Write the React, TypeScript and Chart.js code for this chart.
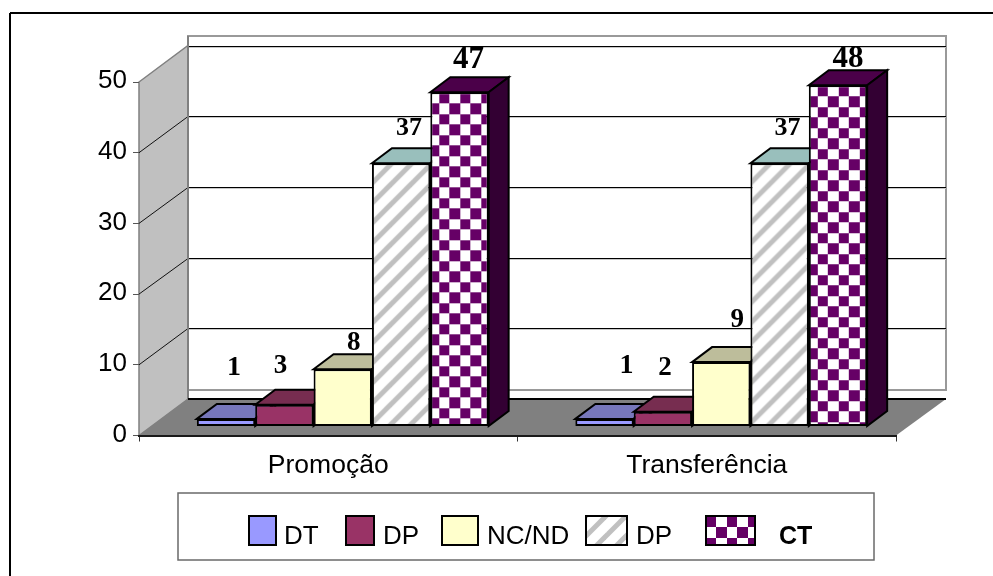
import React, { useEffect, useRef } from "react";
import { Chart, registerables } from "chart.js";

Chart.register(...registerables);

// Survey answers per category
const categories = ["Promoção", "Transferência"];
const dtValues = [1, 1];
const dpValues = [3, 2];
const ncValues = [8, 9];
const dpHatchValues = [37, 37];
const ctValues = [47, 48];
const seriesNames = ["DT", "DP", "NC/ND", "DP", "CT"];
const yTickStep = 10;

// Box geometry of the pseudo-3D scene
const FRAME = { x: 10, y: 13 };
const WALL = { top: 36, left: 188, right: 946, bottom: 390 };
const FLOOR_BACK_Y = 399;
const BACK_DX = 49;
const BACK_DY = 36.5;
const BAR_DX = 20;
const BAR_DY = 15;
const BAR_SHIFT_X = 14.5;

// Bars stand a little in front of the axis plane, so they get their own value axis
const BAR_AXIS_MIN = -1.34;
const BAR_AXIS_MAX = 48.45;

const SOLID_FILLS = ["#9999FF", "#993366", "#FFFFCC", "#FFFFFF", "#FFFFFF"];
const TOP_FILLS = ["#7777BB", "#772D50", "#BDBD9B", "#99BFBC", "#4B0049"];
const SIDE_FILLS = ["#4C4C7F", "#4C1933", "#7F7F66", "#7F8F8F", "#330033"];

// Hand-placed value labels: offset from the top centre of each bar's front face
const LABEL_OFFSETS = [
  [[8, -53], [22, -55]],
  [[-4, -41], [2, -46]],
  [[11, -28], [16, -44]],
  [[8, -37], [8, -37]],
  [[9, -35], [10, -28]],
];
const LABEL_SIZES = [28, 27, 27, 26, 31];

const LEGEND_BOX = { x: 178, y: 493, right: 874, bottom: 560 };
const LEGEND_SWATCH = { top: 516, bottom: 545 };
const LEGEND_SLOTS = [
  { x: 249, w: 27, textX: 284 },
  { x: 346, w: 28, textX: 383 },
  { x: 442, w: 36, textX: 487 },
  { x: 586, w: 41, textX: 636 },
  { x: 706, w: 49, textX: 779 },
];

function makeChecker(): CanvasPattern {
  const tile = document.createElement("canvas");
  tile.width = 21;
  tile.height = 21;
  const c = tile.getContext("2d")!;
  c.fillStyle = "#FFFFFF";
  c.fillRect(0, 0, 21, 21);
  c.fillStyle = "#660066";
  c.fillRect(0, 0, 10, 10);
  c.fillRect(10, 10, 11, 11);
  return c.createPattern(tile, "repeat")!;
}

function makeStripes(): CanvasPattern {
  const t = 20;
  const tile = document.createElement("canvas");
  tile.width = t;
  tile.height = t;
  const c = tile.getContext("2d")!;
  c.fillStyle = "#FFFFFF";
  c.fillRect(0, 0, t, t);
  c.strokeStyle = "#C0C0C0";
  c.lineWidth = 5;
  for (const k of [0, t, 2 * t]) {
    c.beginPath();
    c.moveTo(-t, k + t);
    c.lineTo(2 * t, k - 2 * t);
    c.stroke();
  }
  return c.createPattern(tile, "repeat")!;
}

function anchored(p: CanvasPattern, x: number, y: number): CanvasPattern {
  p.setTransform(new DOMMatrix().translate(x, y));
  return p;
}

// Swaps the hatched fills in so the pattern starts at each bar's corner
const barPatterns = {
  id: "barPatterns",
  afterDatasetsUpdate(chart: any) {
    [3, 4].forEach((ds) => {
      chart.getDatasetMeta(ds).data.forEach((el: any) => {
        const { x, y, width } = el.getProps(["x", "y", "width"], true);
        const left = x - width / 2;
        const fill = ds === 4 ? anchored(makeChecker(), left + 9, y + 1) : anchored(makeStripes(), left, y);
        el.options = { ...el.options, backgroundColor: fill };
      });
    });
  },
};

function poly(ctx: CanvasRenderingContext2D, pts: number[][], fill?: string, stroke?: string, lw = 1) {
  ctx.beginPath();
  pts.forEach(([x, y], i) => (i ? ctx.lineTo(x, y) : ctx.moveTo(x, y)));
  ctx.closePath();
  if (fill) {
    ctx.fillStyle = fill;
    ctx.fill();
  }
  if (stroke) {
    ctx.strokeStyle = stroke;
    ctx.lineWidth = lw;
    ctx.stroke();
  }
}

function line(ctx: CanvasRenderingContext2D, x1: number, y1: number, x2: number, y2: number, color: string, lw = 1) {
  ctx.beginPath();
  ctx.moveTo(x1, y1);
  ctx.lineTo(x2, y2);
  ctx.strokeStyle = color;
  ctx.lineWidth = lw;
  ctx.stroke();
}

// Frame, back wall, side wall with gridlines and floor, below the axes
const scene = {
  id: "scene",
  beforeDraw(chart: any) {
    const { ctx, chartArea, scales } = chart;
    const y = scales.y;
    ctx.save();
    ctx.fillStyle = "#FFFFFF";
    ctx.fillRect(0, 0, chart.width, chart.height);
    line(ctx, FRAME.x, FRAME.y, chart.width, FRAME.y, "#000000", 2);
    line(ctx, FRAME.x, FRAME.y, FRAME.x, chart.height, "#000000", 2);

    const frontLeft = chartArea.left;
    const backLeft = frontLeft + BACK_DX;
    const frontRight = chartArea.right;
    const bottom = y.getPixelForValue(0);
    const top = y.getPixelForValue(y.max);

    ctx.strokeStyle = "#999999";
    ctx.lineWidth = 2;
    ctx.strokeRect(WALL.left, WALL.top, WALL.right - WALL.left, WALL.bottom - WALL.top);

    poly(
      ctx,
      [[frontLeft, top], [backLeft, top - BACK_DY], [backLeft, bottom - BACK_DY], [frontLeft, bottom]],
      "#C0C0C0",
      "#808080",
      1.5
    );
    y.ticks.forEach((t: any) => {
      const py = y.getPixelForValue(t.value);
      if (t.value === 0) return;
      const backY = Math.round(py - BACK_DY) + 0.5;
      line(ctx, backLeft, backY + 1, WALL.right, backY + 1, "#C8C8C8", 1);
      line(ctx, backLeft, backY, WALL.right, backY, "#000000", 1);
      if (t.value !== y.max) line(ctx, frontLeft, py, backLeft, backY, "#111111", 1);
    });
    line(ctx, backLeft, WALL.top, backLeft, FLOOR_BACK_Y, "#808080", 2);

    poly(
      ctx,
      [[frontLeft, bottom], [backLeft, FLOOR_BACK_Y], [WALL.right, FLOOR_BACK_Y], [frontRight, bottom]],
      "#808080"
    );
    line(ctx, backLeft, FLOOR_BACK_Y, WALL.right, FLOOR_BACK_Y, "#000000", 2);
    ctx.restore();
  },
  // Datasets are painted left to right, so a bar hides the depth faces of the one before it
  beforeDatasetsDraw(chart: any) {
    const { ctx } = chart;
    ctx.save();
    ctx.translate(BAR_SHIFT_X, 0);
    chart.data.datasets.forEach((_: any, i: number) => {
      const meta = chart.getDatasetMeta(i);
      meta.data.forEach((el: any) => {
        const { x, y, base, width } = el.getProps(["x", "y", "base", "width"], true);
        const l = x - width / 2;
        const r = x + width / 2;
        poly(ctx, [[l, y], [l + BAR_DX, y - BAR_DY], [r + BAR_DX, y - BAR_DY], [r, y]], TOP_FILLS[i], "#000000", 2);
        poly(ctx, [[r, y], [r + BAR_DX, y - BAR_DY], [r + BAR_DX, base - BAR_DY], [r, base]], SIDE_FILLS[i], "#000000", 2);
      });
      meta.controller.draw();
    });
    ctx.restore();
    return false;
  },
  afterDraw(chart: any) {
    const { ctx } = chart;
    ctx.save();
    ctx.fillStyle = "#000000";
    ctx.textAlign = "center";
    ctx.textBaseline = "alphabetic";
    chart.data.datasets.forEach((ds: any, i: number) => {
      const size = LABEL_SIZES[i];
      ctx.font = `bold ${size}px "Liberation Serif"`;
      chart.getDatasetMeta(i).data.forEach((el: any, j: number) => {
        const { x, y } = el.getProps(["x", "y"], true);
        const [dx, dy] = LABEL_OFFSETS[i][j];
        ctx.fillText(String(ds.data[j]), x + BAR_SHIFT_X + dx, y + dy + size * 0.33);
      });
    });

    // Legend box
    ctx.strokeStyle = "#6A6A6A";
    ctx.lineWidth = 1.5;
    ctx.strokeRect(LEGEND_BOX.x, LEGEND_BOX.y, LEGEND_BOX.right - LEGEND_BOX.x, LEGEND_BOX.bottom - LEGEND_BOX.y);
    const h = LEGEND_SWATCH.bottom - LEGEND_SWATCH.top;
    ctx.textAlign = "left";
    ctx.textBaseline = "alphabetic";
    LEGEND_SLOTS.forEach((slot, i) => {
      let fill: string | CanvasPattern = SOLID_FILLS[i];
      if (i === 3) fill = anchored(makeStripes(), slot.x, LEGEND_SWATCH.top);
      if (i === 4) fill = anchored(makeChecker(), slot.x, LEGEND_SWATCH.top + 1);
      ctx.fillStyle = fill;
      ctx.fillRect(slot.x, LEGEND_SWATCH.top, slot.w, h);
      ctx.strokeStyle = "#000000";
      ctx.lineWidth = 2;
      ctx.strokeRect(slot.x, LEGEND_SWATCH.top, slot.w, h);
      ctx.fillStyle = "#000000";
      ctx.font = i === 4 ? 'bold 25px "Liberation Sans"' : '26px "Liberation Sans"';
      ctx.fillText(seriesNames[i], slot.textX, 544);
    });
    ctx.restore();
  },
};

export default function App() {
  const ref = useRef<HTMLCanvasElement>(null);
  useEffect(() => {
    const series = [dtValues, dpValues, ncValues, dpHatchValues, ctValues];
    const chart = new Chart(ref.current!, {
      type: "bar",
      plugins: [barPatterns, scene],
      data: {
        labels: categories,
        datasets: series.map((data, i) => ({
          label: seriesNames[i],
          data,
          yAxisID: "yBars",
          backgroundColor: SOLID_FILLS[i],
          borderColor: "#000000",
          borderWidth: 2,
          borderSkipped: false,
          barPercentage: 1,
          categoryPercentage: 0.771,
          clip: false as any,
        })),
      },
      options: {
        animation: false,
        responsive: false,
        layout: { padding: { top: 82, right: 97, left: 0, bottom: 0 } },
        plugins: { legend: { display: false }, title: { display: false }, tooltip: { enabled: false } },
        scales: {
          x: {
            grid: { offset: true, drawOnChartArea: false, drawTicks: true, tickLength: 6, color: "#333333" },
            border: { color: "#1A1A1A", width: 2 },
            ticks: { color: "#000000", font: { family: "Liberation Sans", size: 26.5 }, padding: 8, maxRotation: 0 },
            afterFit(s: any) {
              s.height = 140.5;
            },
          },
          y: {
            min: 0,
            max: 50,
            grid: { drawOnChartArea: false, tickLength: 6, color: "#555555" },
            border: { display: false },
            ticks: { stepSize: yTickStep, color: "#000000", font: { family: "Liberation Sans", size: 26 }, padding: 6, labelOffset: -1 },
            afterFit(s: any) {
              s.width = 139;
            },
          },
          yBars: { display: false, min: BAR_AXIS_MIN, max: BAR_AXIS_MAX },
        },
      },
    });
    return () => chart.destroy();
  }, []);
  return (
    <div style={{ position: "absolute", left: 0, top: 0 }}>
      <canvas ref={ref} width={993} height={576} style={{ display: "block" }} />
    </div>
  );
}
